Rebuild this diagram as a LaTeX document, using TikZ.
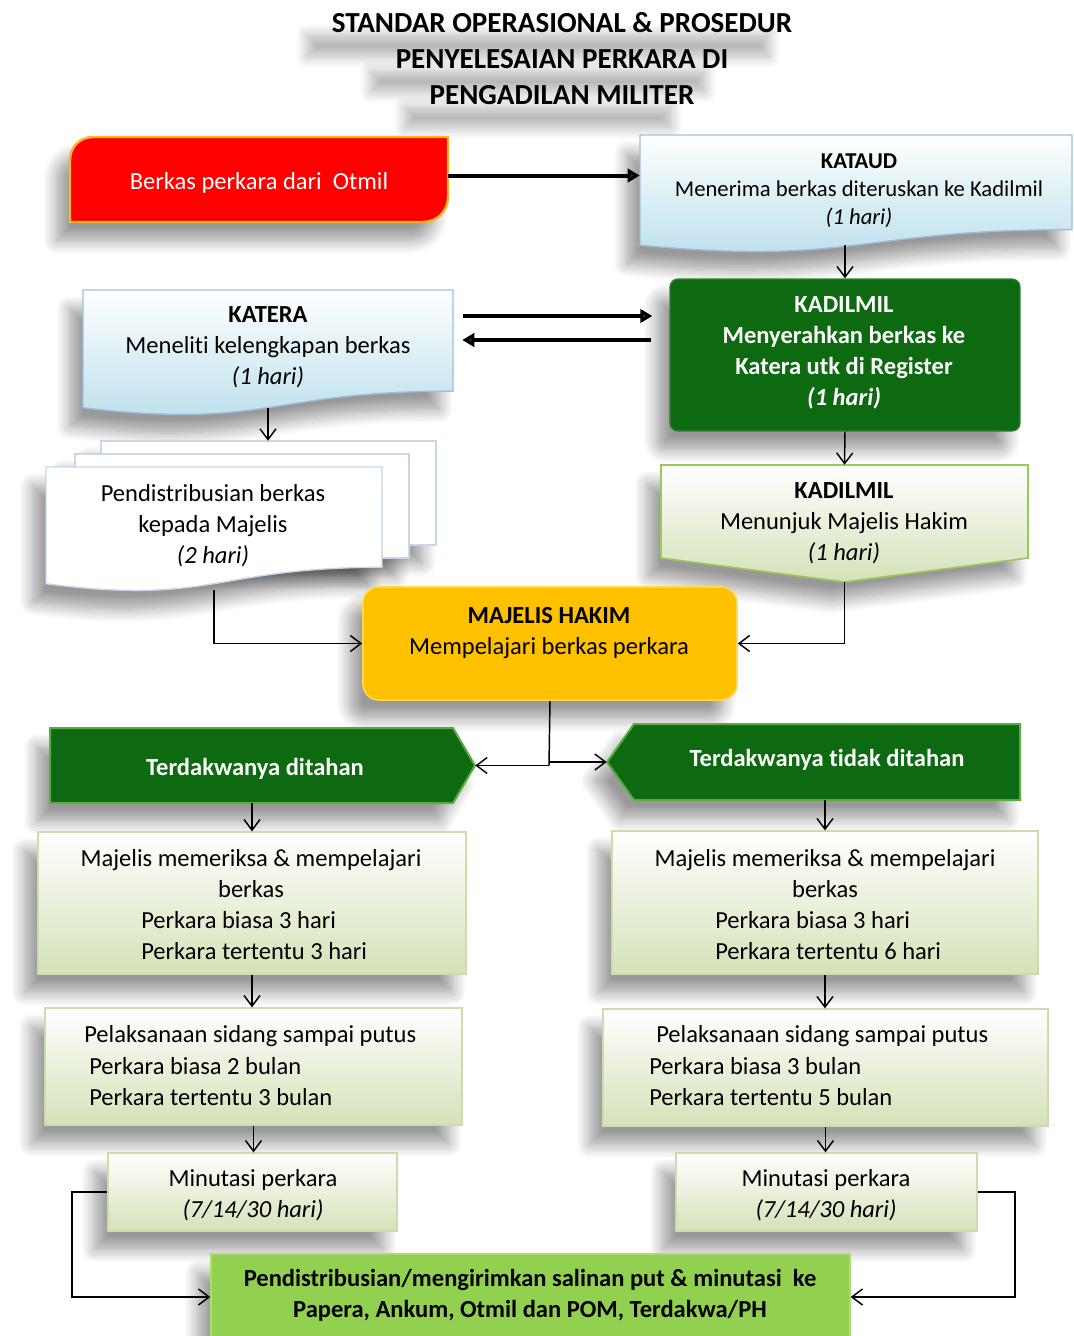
\documentclass[tikz,border=0pt]{standalone}
\usepackage{fontspec}
\setmainfont{Carlito}[Ligatures=NoCommon]
\usetikzlibrary{arrows.meta,shadows.blur,fit,calc}

\definecolor{redfill}{RGB}{255,0,0}
\definecolor{redborder}{RGB}{247,180,40}
\definecolor{bluefill}{RGB}{183,222,235}
\definecolor{blueborder}{RGB}{160,190,220}
\definecolor{darkgreen}{RGB}{14,106,16}
\definecolor{bevelgreen}{RGB}{90,170,70}
\definecolor{lightgreen}{RGB}{212,226,184}
\definecolor{lgborder}{RGB}{205,220,170}
\definecolor{pentborder}{RGB}{155,200,90}
\definecolor{gold}{RGB}{255,192,0}
\definecolor{goldborder}{RGB}{255,215,80}
\definecolor{limegreen}{RGB}{146,208,80}
\definecolor{limeborder}{RGB}{170,220,110}
\definecolor{docborder}{RGB}{200,215,235}

\newcommand\myBody{\fontsize{18.4}{23.25}\selectfont}
\newcommand\myKat{\fontsize{17}{21}\selectfont}
\newcommand\myTitle{\fontsize{21.8}{27}\selectfont\bfseries}

\begin{document}
\begin{tikzpicture}[x=0.75pt,y=-0.75pt,
  shadowed/.style={blur shadow={shadow xshift=-10pt,shadow yshift=-14pt,shadow blur radius=10pt,shadow opacity=40,shadow blur steps=12}},
  shadowtitle/.style={blur shadow={shadow xshift=-18pt,shadow yshift=-17pt,shadow blur radius=8pt,shadow opacity=28,shadow blur steps=12}},
  txt/.style={font=\myBody,align=center,inner sep=0pt},
  lefttxt/.style={font=\myBody,align=left,inner sep=0pt,anchor=west},
  fitbox/.style={inner sep=0pt},
  arr/.style={line width=1.1pt,-{Straight Barb[length=8pt,width=12pt,line width=1.1pt]}},
  bigarr/.style={line width=3pt,-{Triangle[length=9pt,width=10pt]}},
  plainline/.style={line width=1.1pt}
]
\useasboundingbox (0,0) rectangle (1074,1336);

% Title
\node[font=\myTitle, inner sep=1pt, shadowtitle] (t1) at (562,23) {STANDAR OPERASIONAL \& PROSEDUR};
\node[font=\myTitle, inner sep=1pt, shadowtitle] (t2) at (562,59) {PENYELESAIAN PERKARA DI};
\node[font=\myTitle, inner sep=1pt, shadowtitle] (t3) at (562,95) {PENGADILAN MILITER};

% Red box
\path[fill=redfill, draw=redborder, line width=1.8pt, shadowed]
  (70,222) -- (70,160) .. controls (70,147) and (80,137) .. (93,137) -- (448,137)
  -- (448,197) .. controls (448,211) and (437,222) .. (423,222) -- cycle;
\node[fit={(70,137) (448,214)}, fitbox] (redbox) {};
\node[txt, text=white] (redtxt) at (259,183) {Berkas perkara dari\ \ Otmil};

% KATAUD document
\path[top color=white, bottom color=bluefill, draw=blueborder, line width=1pt, shadowed]
  (640,135) -- (1072,135) -- (1072,229.6) .. controls (856,229.6) and (856,265.6) .. (640,245.2) -- cycle;
\node[fit={(640,135) (1072,245.2)}, fitbox] (kataud) {};
\node[txt, font=\myKat] (kataudtxt) at (859,191) {\textbf{KATAUD}\\Menerima berkas diteruskan ke Kadilmil\\\textit{(1 hari)}};

% KATERA document
\path[top color=white, bottom color=bluefill, draw=blueborder, line width=1pt, shadowed]
  (83,290) -- (453,290) -- (453,391.1) .. controls (268,391.1) and (268,429.5) .. (83,407.7) -- cycle;
\node[fit={(83,290) (453,407.7)}, fitbox] (katera) {};
\node[txt] (kateratxt) at (268,347.5) {\textbf{KATERA}\\Meneliti kelengkapan berkas\\\textit{(1 hari)}};

% KADILMIL green
\node[fit={(670,279) (1020,431)}, fitbox, fill=darkgreen, draw=darkgreen!85!white, line width=1pt, rounded corners=6pt, shadowed] (kadilmil) {};
\node[txt, font=\myBody\bfseries, text=white] (kadilmiltxt) at (844,352.5) {KADILMIL\\Menyerahkan berkas ke\\Katera utk di Register\\\textit{(1 hari)}};

% Multidocument
\path[fill=white, draw=docborder, line width=1pt, shadowed] (101,441) rectangle (436,545);
\path[fill=white, draw=docborder, line width=1pt, shadowed] (75,454) rectangle (409,558);
\path[fill=white, draw=docborder, line width=1pt, shadowed]
  (46,467) -- (382,467) -- (382,567.3) .. controls (214,567.3) and (214,605.4) .. (46,583.8) -- cycle;
\node[fit={(101,441) (436,545)}, fitbox] (backdoc) {};
\node[fit={(46,467) (382,583.8)}, fitbox] (frontdoc) {};
\node[txt] (doctxt) at (213,525.5) {Pendistribusian berkas\\kepada Majelis\\\textit{(2 hari)}};

% KADILMIL pentagon
\path[top color=white, bottom color=lightgreen, draw=pentborder, line width=1.2pt, shadowed]
  (661,465) -- (1028,465) -- (1028,558) -- (844.5,582) -- (661,558) -- cycle;
\node[fit={(661,465) (1028,582)}, fitbox] (menunjuk) {};
\node[txt] (menunjuktxt) at (844,523.5) {\textbf{KADILMIL}\\Menunjuk Majelis Hakim\\\textit{(1 hari)}};

% Majelis Hakim
\node[fit={(363,587) (737,700)}, fitbox, fill=gold, draw=goldborder, line width=1.2pt, rounded corners=12pt, shadowed] (majelis) {};
\node[txt] (majelistxt) at (549,633) {\textbf{MAJELIS HAKIM}\\Mempelajari berkas perkara};

% Banners
\path[fill=darkgreen, draw=bevelgreen, line width=1.5pt, shadowed]
  (50,728) -- (453,728) -- (475,765.5) -- (453,803) -- (50,803) -- cycle;
\node[fit={(50,728) (475,803)}, fitbox] (leftban) {};
\node[txt, font=\myBody\bfseries, text=white] (leftbantxt) at (255,769) {Terdakwanya ditahan};
\path[fill=darkgreen, draw=bevelgreen, line width=1.5pt, shadowed]
  (634,724) -- (1020,724) -- (1020,800) -- (634,800) -- (607,762) -- cycle;
\node[fit={(607,724) (1020,800)}, fitbox] (rightban) {};
\node[txt, font=\myBody\bfseries, text=white] (rightbantxt) at (827,760) {Terdakwanya tidak ditahan};

% Row 1 boxes
\node[fit={(38,832) (466,974)}, fitbox, top color=white, bottom color=lightgreen, draw=lgborder, line width=1pt, shadowed] (boxAL) {};
\node[txt] (boxALt) at (251,873.5) {Majelis memeriksa \& mempelajari\\berkas};
\node[lefttxt] (boxALl) at (141,935.5) {Perkara biasa 3 hari\\Perkara tertentu 3 hari};
\node[fit={(612,831) (1038,974)}, fitbox, top color=white, bottom color=lightgreen, draw=lgborder, line width=1pt, shadowed] (boxAR) {};
\node[txt] (boxARt) at (825,873.5) {Majelis memeriksa \& mempelajari\\berkas};
\node[lefttxt] (boxARl) at (715,935.5) {Perkara biasa 3 hari\\Perkara tertentu 6 hari};

% Row 2 boxes
\node[fit={(45,1008) (462,1125)}, fitbox, top color=white, bottom color=lightgreen, draw=lgborder, line width=1pt, shadowed] (boxBL) {};
\node[lefttxt] (boxBLt) at (84,1036) {Pelaksanaan sidang sampai putus};
\node[lefttxt] (boxBLl) at (89,1082) {Perkara biasa 2 bulan\\Perkara tertentu 3 bulan};
\node[fit={(603,1009) (1048,1126)}, fitbox, top color=white, bottom color=lightgreen, draw=lgborder, line width=1pt, shadowed] (boxBR) {};
\node[lefttxt] (boxBRt) at (656,1036) {Pelaksanaan sidang sampai putus};
\node[lefttxt] (boxBRl) at (649,1082) {Perkara biasa 3 bulan\\Perkara tertentu 5 bulan};

% Minutasi
\node[fit={(108,1153) (397,1231)}, fitbox, top color=white, bottom color=lightgreen, draw=lgborder, line width=1pt, shadowed] (minL) {};
\node[txt] (minLt) at (253,1195) {Minutasi perkara\\\textit{(7/14/30 hari)}};
\node[fit={(676,1153) (977,1231)}, fitbox, top color=white, bottom color=lightgreen, draw=lgborder, line width=1pt, shadowed] (minR) {};
\node[txt] (minRt) at (826,1195) {Minutasi perkara\\\textit{(7/14/30 hari)}};

% Bottom box
\node[fit={(211,1254) (850,1340)}, fitbox, fill=limegreen, draw=limeborder, line width=1pt, shadowed] (bottom) {};
\node[txt, font=\myBody\bfseries] (bottomt) at (530,1295.5) {Pendistribusian/mengirimkan salinan put \& minutasi\ \ ke\\Papera, Ankum, Otmil dan POM, Terdakwa/PH};

% Helper coordinates
\coordinate (upY) at (560,316);
\coordinate (dnY) at (560,340);
\coordinate (split) at (549,765.5);
\coordinate (lc) at (72,0);
\coordinate (rc) at (1015,0);

% Connectors
\draw[bigarr] (redbox.east) -- (redbox.east -| kataud.west);
\draw[arr] (kataud.south -| kadilmil.north) -- (kadilmil.north);
\draw[bigarr, shorten <=7.5pt, shorten >=12.75pt] (katera.east |- upY) -- (kadilmil.west |- upY);
\draw[bigarr, shorten <=13.5pt, shorten >=6.75pt] (kadilmil.west |- dnY) -- (katera.east |- dnY);
\draw[arr] (katera.south) -- (katera.south |- backdoc.north);
\draw[arr] (kadilmil.south) -- (menunjuk.north);
\draw[arr] (frontdoc.south) ++(0,6) |- (majelis.west);
\draw[arr] (menunjuk.south) |- (majelis.east);
\draw[plainline] (majelis.south) -- (split);
\draw[arr] (split) -- (leftban.east);
\draw[arr] (split |- rightban.west) -- (rightban.west);
\draw[arr] (boxAL.north |- leftban.south) -- (boxAL.north);
\draw[arr] (boxAR.north |- rightban.south) -- (boxAR.north);
\draw[arr] (boxAL.south) -- (boxAL.south |- boxBL.north);
\draw[arr] (boxAR.south) -- (boxAR.south |- boxBR.north);
\draw[arr] (boxBL.south) -- (boxBL.south |- minL.north);
\draw[arr] (boxBR.south) -- (boxBR.south |- minR.north);
\draw[arr] (minL.west) -- (minL.west -| lc) |- (bottom.west);
\draw[arr] (minR.east) -- (minR.east -| rc) |- (bottom.east);
\end{tikzpicture}
\end{document}
